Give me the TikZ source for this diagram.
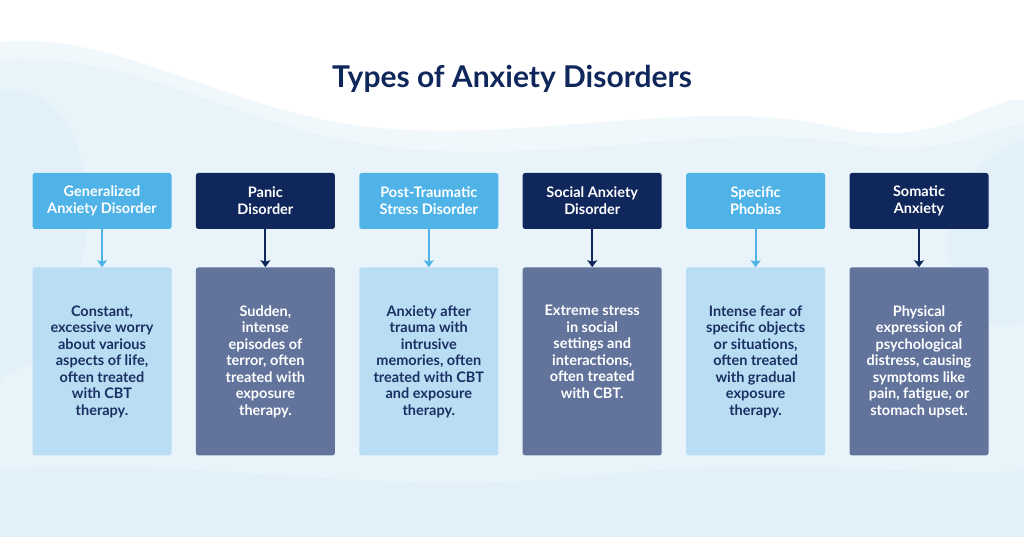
\documentclass[tikz,border=0pt]{standalone}
\usepackage{fontspec}
\setmainfont{Lato}
\usetikzlibrary{arrows.meta, positioning}
\definecolor{skyhead}{HTML}{4FB3E8}
\definecolor{navyhead}{HTML}{10275C}
\definecolor{skybody}{HTML}{B9DEF4}
\definecolor{slatebody}{HTML}{62749C}
\definecolor{inktext}{HTML}{1B2F63}
\definecolor{washblue}{HTML}{D9ECF8}

\tikzset{
  headbox/.style={rounded corners=2.5pt, minimum width=139pt, minimum height=56pt,
    inner sep=0pt, align=center, text=white, font=\fontsize{14.5}{17}\selectfont\bfseries},
  headlight/.style={headbox, fill=skyhead},
  headdark/.style={headbox, fill=navyhead},
  bodybox/.style={rounded corners=2.5pt, minimum width=139pt, minimum height=188pt,
    inner sep=0pt, font=\fontsize{14.5}{16.5}\selectfont\bfseries},
  bodylight/.style={bodybox, fill=skybody, text=inktext},
  bodydark/.style={bodybox, fill=slatebody, text=white},
  link/.style={line width=2pt, -{Stealth[length=7pt, width=10pt, inset=1.5pt]}},
  wash/.style={fill=washblue, opacity=0.35},
}
\newcommand{\bodytext}[1]{\parbox[c][188pt][t]{138pt}{\centering\vspace*{38pt}#1}}

\begin{document}
\begin{tikzpicture}[x=1pt, y=-1pt]
\useasboundingbox (0,0) rectangle (1024,537);
% watercolour wash
\fill[white] (0,0) rectangle (1024,537);
\fill[wash] (0,42) .. controls (120,30) and (230,115) .. (380,128)
  .. controls (540,142) and (700,95) .. (840,128)
  .. controls (940,150) and (990,95) .. (1024,100) -- (1024,537) -- (0,537) -- cycle;
\fill[wash] (0,60) .. controls (150,50) and (250,140) .. (420,150)
  .. controls (600,160) and (720,120) .. (860,145)
  .. controls (950,160) and (1000,120) .. (1024,125) -- (1024,537) -- (0,537) -- cycle;
\fill[wash] (0,90) .. controls (80,80) and (110,200) .. (70,300)
  .. controls (40,380) and (20,360) .. (0,380) -- cycle;
\fill[wash] (1024,140) .. controls (960,160) and (920,240) .. (970,310)
  .. controls (1000,340) and (1024,320) .. (1024,320) -- cycle;
\fill[wash] (0,470) .. controls (200,455) and (380,500) .. (600,475)
  .. controls (800,455) and (950,480) .. (1024,470) -- (1024,537) -- (0,537) -- cycle;

\node[font=\fontsize{30}{34}\selectfont\bfseries, text=navyhead] (title) at (512,79) {Types of Anxiety Disorders};

% headers
\node[headlight] (hdGAD) at (102,201) {Generalized\\Anxiety Disorder};
\node[headdark, right=24pt of hdGAD] (hdPanic) {Panic\\Disorder};
\node[headlight, right=24pt of hdPanic] (hdPTSD) {Post-Traumatic\\Stress Disorder};
\node[headdark, right=24pt of hdPTSD] (hdSocial) {Social Anxiety\\Disorder};
\node[headlight, right=24pt of hdSocial] (hdPhobia) {Specific\\Phobias};
\node[headdark, right=24pt of hdPhobia] (hdSomatic) {Somatic\\Anxiety};

% descriptions
\node[bodylight, below=38pt of hdGAD] (bdGAD) {\bodytext{Constant,\\excessive worry\\about various\\aspects of life,\\often treated\\with CBT\\therapy.}};
\node[bodydark, below=38pt of hdPanic] (bdPanic) {\bodytext{Sudden,\\intense\\episodes of\\terror, often\\treated with\\exposure\\therapy.}};
\node[bodylight, below=38pt of hdPTSD] (bdPTSD) {\bodytext{Anxiety after\\trauma with\\intrusive\\memories, often\\treated with CBT\\and exposure\\therapy.}};
\node[bodydark, below=38pt of hdSocial] (bdSocial) {\bodytext{Extreme stress\\in social\\settings and\\interactions,\\often treated\\with CBT.}};
\node[bodylight, below=38pt of hdPhobia] (bdPhobia) {\bodytext{Intense fear of\\specific objects\\or situations,\\often treated\\with gradual\\exposure\\therapy.}};
\node[bodydark, below=38pt of hdSomatic] (bdSomatic) {\bodytext{Physical\\expression of\\psychological\\distress, causing\\symptoms like\\pain, fatigue, or\\stomach upset.}};

\path[link, skyhead] (hdGAD) edge (bdGAD);
\path[link, navyhead] (hdPanic) edge (bdPanic);
\path[link, skyhead] (hdPTSD) edge (bdPTSD);
\path[link, navyhead] (hdSocial) edge (bdSocial);
\path[link, skyhead] (hdPhobia) edge (bdPhobia);
\path[link, navyhead] (hdSomatic) edge (bdSomatic);
\end{tikzpicture}
\end{document}
